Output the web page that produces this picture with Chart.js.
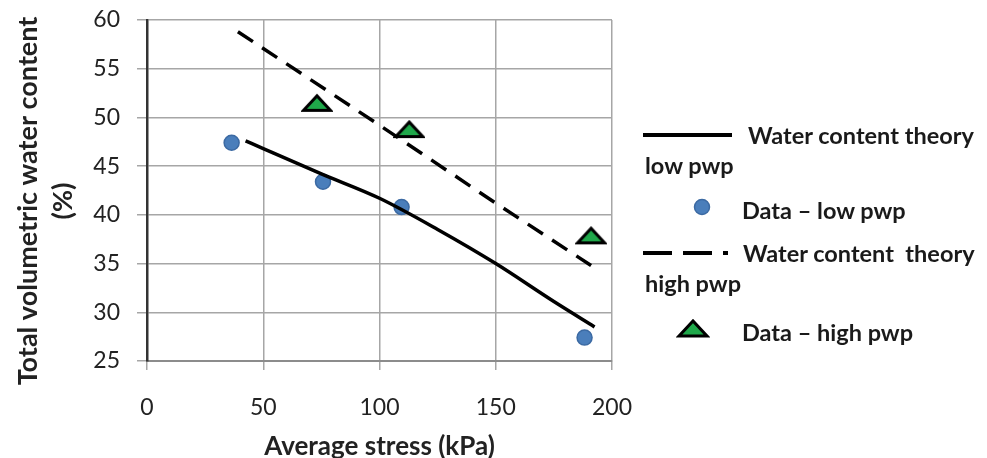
<!DOCTYPE html>
<html>
<head>
<meta charset="utf-8">
<script src="https://cdn.jsdelivr.net/npm/chart.js@4"></script>
<style>
  body { margin: 0; background: #fff; }
  #wrap { position: relative; width: 987px; height: 458px; }
  #grafico { position: absolute; left: 0; top: 0; }
  .leg { position: absolute; font-family: Lato, sans-serif; font-weight: bold; font-size: 23.5px; color: #1a1a1a; white-space: nowrap; line-height: 28px; }
  .sym { position: absolute; }
</style>
</head>
<body>
<div id="wrap">
  <canvas id="grafico" width="987" height="458"></canvas>

  <svg class="sym" style="left:640px;top:125px" width="95" height="20"><line x1="3" y1="10" x2="92" y2="10" stroke="#000" stroke-width="4"/></svg>
  <div class="leg" style="left:748px;top:121px">Water content theory</div>
  <div class="leg" style="left:645px;top:151px">low pwp</div>

  <svg class="sym" style="left:690px;top:196px" width="24" height="24"><circle cx="12" cy="11" r="7.5" fill="#4a7ebb" stroke="#3c6aa3" stroke-width="1.5"/></svg>
  <div class="leg" style="left:742px;top:196px">Data – low pwp</div>

  <svg class="sym" style="left:640px;top:243px" width="95" height="20"><line x1="3" y1="10" x2="88" y2="10" stroke="#000" stroke-width="4" stroke-dasharray="29 11"/></svg>
  <div class="leg" style="left:743px;top:239px">Water content&nbsp; theory</div>
  <div class="leg" style="left:645px;top:269px">high pwp</div>

  <svg class="sym" style="left:676px;top:316px" width="34" height="24"><polygon points="3,20 17,5 31,20" fill="#1fa84a" stroke="#000" stroke-width="3" stroke-linejoin="miter"/></svg>
  <div class="leg" style="left:742px;top:318px">Data – high pwp</div>
</div>
<script>
// dados
const tensaoTeoriaBaixa = [42.4, 50, 75, 100, 125, 150, 175, 192.5]
const teorBaixa = [47.6, 46.8, 44.2, 41.7, 38.5, 35.0, 31.1, 28.5]

const tensaoDadosBaixa = [36.4, 75.7, 109.5, 188.2]
const teorDadosBaixa = [47.4, 43.4, 40.8, 27.4]

const tensaoTeoriaAlta = [39.1, 100, 150, 191]
const teorAlta = [58.8, 49.2, 41.2, 34.8]

const tensaoDadosAlta = [73.1, 112.8, 191]
const teorDadosAlta = [51.5, 48.8, 37.9]

const ticksX = [0, 50, 100, 150, 200]
const ticksY = [25, 30, 35, 40, 45, 50, 55, 60]

const tituloY = ["Total volumetric water content", "(%)"]

function pontos(xs, ys) {
    return xs.map((x, i) => ({ x: x, y: ys[i] }))
}

// triangulo achatado como no excel
const triangulo = document.createElement("canvas")
triangulo.width = 32
triangulo.height = 20
const ctx = triangulo.getContext("2d")
ctx.beginPath()
ctx.moveTo(2.5, 17.5)
ctx.lineTo(16, 3)
ctx.lineTo(29.5, 17.5)
ctx.closePath()
ctx.fillStyle = "#1fa84a"
ctx.fill()
ctx.lineWidth = 3
ctx.strokeStyle = "#000000"
ctx.stroke()

const fonte = "Lato, sans-serif"

// titulo do eixo y desenhado a mao (um pouco abaixo do centro, como no original)
const tituloEixoY = {
    id: "tituloEixoY",
    afterDraw(chart) {
        const c = chart.ctx
        c.save()
        c.translate(0, 201)
        c.rotate(-Math.PI / 2)
        c.font = "bold 27px " + fonte
        c.fillStyle = "#222"
        c.textAlign = "center"
        c.textBaseline = "middle"
        c.fillText(tituloY[0], 0, 28)
        c.fillText(tituloY[1], 0, 63)
        c.restore()
    }
}

new Chart(document.getElementById("grafico"), {
    type: "scatter",
    data: {
        datasets: [{
            label: "Water content theory low pwp",
            data: pontos(tensaoTeoriaBaixa, teorBaixa),
            showLine: true,
            borderColor: "#000000",
            borderWidth: 3.5,
            pointRadius: 0,
            cubicInterpolationMode: "monotone"
        }, {
            label: "Data – low pwp",
            data: pontos(tensaoDadosBaixa, teorDadosBaixa),
            pointRadius: 7.5,
            backgroundColor: "#4a7ebb",
            borderColor: "#3c6aa3",
            borderWidth: 1.5
        }, {
            label: "Water content theory high pwp",
            data: pontos(tensaoTeoriaAlta, teorAlta),
            showLine: true,
            borderColor: "#000000",
            borderWidth: 3.5,
            borderDash: [18, 11],
            pointRadius: 0
        }, {
            label: "Data – high pwp",
            data: pontos(tensaoDadosAlta, teorDadosAlta),
            pointStyle: triangulo,
            pointRadius: 10
        }]
    },
    plugins: [tituloEixoY],
    options: {
        responsive: false,
        animation: false,
        layout: { padding: { left: 0, right: 375, top: 20, bottom: 0 } },
        plugins: {
            legend: { display: false },
            tooltip: { enabled: false }
        },
        scales: {
            x: {
                type: "linear",
                min: 0,
                max: 200,
                afterBuildTicks: (eixo) => { eixo.ticks = ticksX.map(v => ({ value: v })) },
                afterFit: (eixo) => {
                    eixo.height = 97
                    eixo.paddingLeft = 0
                    eixo.paddingRight = 0
                },
                grid: { color: "#a6a6a6", lineWidth: 1.5, tickLength: 9 },
                border: { color: "#8c8c8c", width: 2 },
                ticks: { color: "#222", padding: 24, font: { family: fonte, size: 23 } },
                title: {
                    display: true,
                    text: "Average stress (kPa)",
                    color: "#222",
                    padding: { top: 0, bottom: -2 },
                    font: { family: fonte, size: 26, weight: "bold", lineHeight: 1 }
                }
            },
            y: {
                type: "linear",
                min: 25,
                max: 60,
                afterBuildTicks: (eixo) => { eixo.ticks = ticksY.map(v => ({ value: v })) },
                afterFit: (eixo) => {
                    eixo.width = 147
                    eixo.paddingTop = 0
                    eixo.paddingBottom = 0
                },
                grid: { color: "#a6a6a6", lineWidth: 1.5, tickLength: 10 },
                border: { color: "#333333", width: 2.5 },
                ticks: { color: "#222", padding: 17, font: { family: fonte, size: 23 } }
            }
        }
    }
});
</script>
</body>
</html>
